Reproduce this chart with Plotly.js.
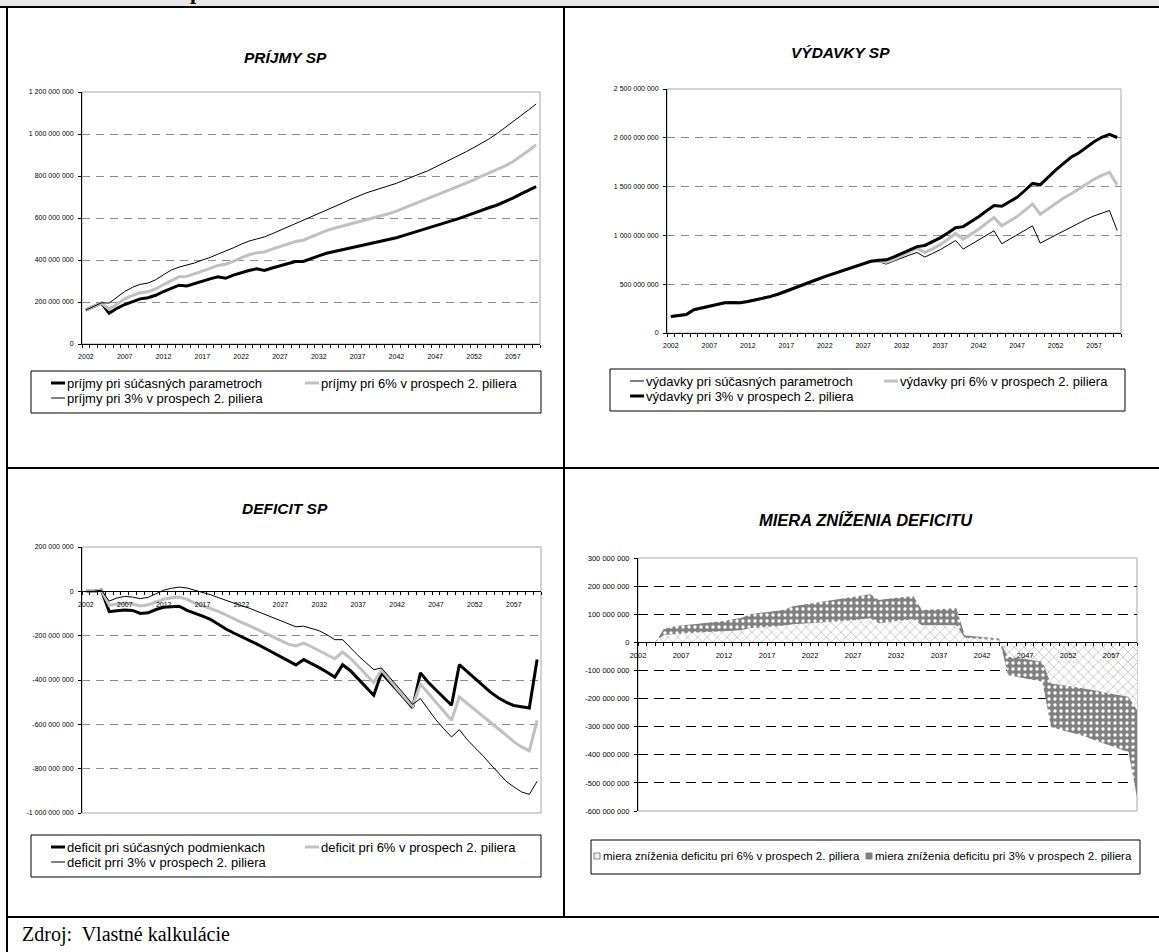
<!DOCTYPE html>
<html>
<head>
<meta charset="utf-8">
<script src="https://cdn.plot.ly/plotly-3.0.1.min.js"></script>
<style>
  html, body { margin: 0; padding: 0; background: #ffffff; }
  #chart { width: 1159px; height: 952px; }
</style>
</head>
<body>
<div id="chart"></div>
<script>
// ---- data (values in millions) ----
const years = [2002,2003,2004,2005,2006,2007,2008,2009,2010,2011,2012,2013,2014,2015,2016,2017,2018,2019,2020,
  2021,2022,2023,2024,2025,2026,2027,2028,2029,2030,2031,2032,2033,2034,2035,2036,2037,2038,2039,2040,
  2041,2042,2043,2044,2045,2046,2047,2048,2049,2050,2051,2052,2053,2054,2055,2056,2057,2058,2059,2060];
const labelYears = [2002,2007,2012,2017,2022,2027,2032,2037,2042,2047,2052,2057];

// PRÍJMY SP
const incomeCurrent = [162,178,195,146,170,188,203,215,220,232,250,266,280,276,288,298,310,320,313,328,
  340,350,358,350,362,373,384,393,393,408,420,432,440,448,456,464,474,482,488,497,
  506,517,528,540,551,562,574,585,597,610,624,638,650,662,678,695,714,732,749];
const incomeSix = [162,178,195,165,190,215,232,244,249,262,283,303,320,322,333,347,360,374,380,393,
  410,425,434,438,452,465,477,488,494,510,526,540,551,561,571,580,590,600,608,620,
  633,647,662,676,692,707,722,737,750,767,782,800,815,830,848,868,892,920,948];
const incomeThree = [162,178,196,195,222,250,270,284,290,306,330,352,366,376,386,400,412,428,442,458,
  475,490,500,510,525,541,556,572,587,603,620,637,654,670,687,703,718,730,741,753,
  765,780,796,810,824,842,860,878,898,916,936,956,978,1003,1030,1059,1086,1114,1143];

// VÝDAVKY SP
const expCurrent = [168,178,190,238,256,272,288,310,312,310,322,340,356,375,400,428,456,485,518,548,
  578,605,633,660,686,712,735,730,706,738,770,798,825,778,815,853,900,948,860,905,
  955,1000,1047,914,960,1006,1052,1098,921,962,1006,1046,1085,1125,1165,1200,1230,1255,1050];
const expSix = [168,178,190,238,256,272,288,310,312,310,322,340,356,375,400,428,456,485,518,548,
  578,605,633,660,686,712,735,738,725,755,790,830,870,825,862,905,960,1020,962,1012,
  1064,1125,1183,1098,1145,1193,1257,1320,1218,1275,1331,1380,1425,1475,1525,1575,1615,1645,1518];
const expThree = [168,178,190,238,256,272,288,310,312,310,322,340,356,375,400,428,456,485,518,548,
  578,605,633,660,686,712,735,745,750,780,815,850,885,897,935,975,1025,1078,1090,1140,
  1192,1250,1305,1298,1345,1390,1460,1532,1518,1595,1668,1735,1800,1845,1905,1960,2005,2035,2003];

// DEFICIT SP
const deficitCurrent = [0,0,5,-92,-88,-84,-86,-100,-97,-82,-72,-68,-67,-86,-98,-112,-126,-148,-170,-188,
  -204,-220,-238,-257,-276,-296,-315,-332,-308,-325,-344,-365,-387,-331,-358,-395,-432,-469,-368,-405,
  -445,-485,-525,-368,-410,-445,-480,-514,-331,-362,-395,-425,-455,-480,-500,-515,-522,-526,-308];
const deficitSix = [0,0,5,-63,-57,-53,-57,-66,-61,-47,-36,-29,-26,-36,-53,-65,-76,-90,-106,-124,
  -140,-155,-172,-188,-205,-222,-238,-246,-234,-250,-268,-286,-304,-274,-302,-338,-376,-412,-354,-398,
  -440,-480,-518,-419,-460,-500,-542,-582,-477,-505,-535,-565,-590,-618,-648,-678,-702,-720,-582];
const deficitThree = [0,0,5,-44,-30,-23,-26,-33,-27,-10,5,14,19,15,6,-4,-15,-28,-41,-52,
  -65,-76,-90,-104,-118,-132,-146,-160,-157,-166,-178,-196,-218,-218,-255,-290,-322,-353,-346,-385,
  -425,-467,-510,-484,-532,-580,-620,-657,-624,-668,-705,-740,-780,-820,-856,-882,-905,-916,-857];

// MIERA ZNÍŽENIA DEFICITU
const reductionSix = [0,0,0,26,29,31,33,35,36,37,39,41,44,50,52,54,57,60,64,66,
  68,70,71,72,76,79,83,86,68,72,76,79,82,61,61,61,61,61,16,13,
  11,9,7,-51,-55,-60,-64,-69,-146,-150,-155,-160,-165,-170,-176,-182,-188,-194,-241];
const reductionThree = [0,0,0,47,55,60,62,66,70,72,76,82,87,100,104,107,112,116,128,133,
  138,143,148,154,158,163,167,171,151,155,159,162,165,115,116,118,120,121,24,21,
  19,16,14,-117,-122,-128,-134,-140,-301,-310,-318,-327,-335,-347,-358,-368,-380,-390,-551];

// axis ticks (millions)
const incomeTicks = [0,200,400,600,800,1000,1200];
const expTicks = [0,500,1000,1500,2000,2500];
const deficitTicks = [-1000,-800,-600,-400,-200,0,200];
const reductionTicks = [-600,-500,-400,-300,-200,-100,0,100,200,300];

// legend labels
const incomeNames = ['príjmy pri súčasných parametroch','príjmy pri 6% v prospech 2. piliera','príjmy pri 3% v prospech 2. piliera'];
const expNames = ['výdavky pri súčasných parametroch','výdavky pri 6% v prospech 2. piliera','výdavky pri 3% v prospech 2. piliera'];
const deficitNames = ['deficit pri súčasných podmienkach','deficit pri 6% v prospech 2. piliera','deficit prri 3% v prospech 2. piliera'];
const reductionNames = ['miera zníženia deficitu pri 6% v prospech 2. piliera','miera zníženia deficitu pri 3% v prospech 2. piliera'];

// ---- helpers ----
const W = 1159, H = 952;
const fx = p => p / W;
const fy = p => 1 - p / H;
const M = 1e6;
const scaled = arr => arr.map(v => v * M);
const FONT = 'Liberation Sans, Arial, sans-serif';
const SERIF = 'Liberation Serif, Times New Roman, serif';

function spaced(v) {
  const s = Math.abs(Math.round(v)).toString().replace(/\B(?=(\d{3})+(?!\d))/g, ' ');
  return (v < 0 ? '-' : '') + s;
}

const THICK = {color: '#000000', width: 3};
const GRAY  = {color: '#c0c0c0', width: 3};
const THIN  = {color: '#000000', width: 1};

function yAxis(box, ticks, anchor, size, gridColor, dash) {
  const vals = ticks.map(t => t * M);
  return {
    domain: [fy(box[3]), fy(box[1])],
    range: [vals[0], vals[vals.length - 1]],
    anchor: anchor, fixedrange: true,
    tickmode: 'array', tickvals: vals, ticktext: vals.map(spaced),
    ticks: 'outside', ticklen: 3, tickwidth: 1, tickcolor: '#000',
    ticklabelstandoff: 3,
    showline: true, linecolor: '#000', linewidth: 1,
    showgrid: true, gridcolor: gridColor, gridwidth: 1, griddash: dash,
    zeroline: false,
    tickfont: {family: FONT, size: size, color: '#000'}
  };
}

function xAxis(box, anchor, size, onTicks, freePos) {
  const first = years[0], last = years[years.length - 1];
  const ax = {
    domain: [fx(box[0]), fx(box[2])],
    fixedrange: true,
    tickmode: 'array', tickvals: labelYears, ticktext: labelYears.map(String),
    showline: true, linecolor: '#000', linewidth: 1,
    showgrid: false, zeroline: false,
    tickfont: {family: FONT, size: size, color: '#000'}
  };
  if (onTicks) {
    ax.range = [first, last];
    ax.ticks = 'outside'; ax.ticklen = 3; ax.tickcolor = '#000';
    ax.ticklabelstandoff = 3;
    ax.minor = {tickmode: 'array', tickvals: years, ticks: 'outside', ticklen: 3, tickcolor: '#000', showgrid: false};
  } else {
    ax.range = [first - 0.5, last + 0.5];
    ax.ticks = 'outside'; ax.ticklen = 0;
    ax.ticklabelstandoff = 6;
    ax.minor = {tickmode: 'array', tickvals: years.concat([last + 1]).map(y => y - 0.5),
                ticks: 'outside', ticklen: 3, tickcolor: '#000', showgrid: false};
  }
  if (freePos !== undefined) { ax.anchor = 'free'; ax.position = freePos; }
  else ax.anchor = anchor;
  return ax;
}

// plot areas in pixels: [left, top, right, bottom]
const box1 = [82, 92, 540, 344];
const box2 = [667, 89, 1121, 333];
const box3 = [82, 547, 541, 813];
const box4 = [638, 558, 1137, 811];

function zeroPos(box, ticks) {
  const lo = ticks[0], hi = ticks[ticks.length - 1];
  const yPix = box[3] - (0 - lo) / (hi - lo) * (box[3] - box[1]);
  return fy(yPix);
}

function lineTrace(y, xa, ya, style) {
  return {type: 'scatter', mode: 'lines', x: years, y: scaled(y), xaxis: xa, yaxis: ya,
          line: Object.assign({shape: 'linear'}, style), hoverinfo: 'skip', showlegend: false};
}

const traces = [
  lineTrace(incomeCurrent, 'x', 'y', THICK),
  lineTrace(incomeSix, 'x', 'y', GRAY),
  lineTrace(incomeThree, 'x', 'y', THIN),

  lineTrace(expCurrent, 'x2', 'y2', THIN),
  lineTrace(expSix, 'x2', 'y2', GRAY),
  lineTrace(expThree, 'x2', 'y2', THICK),

  lineTrace(deficitCurrent, 'x3', 'y3', THICK),
  lineTrace(deficitSix, 'x3', 'y3', GRAY),
  lineTrace(deficitThree, 'x3', 'y3', THIN),

  {type: 'scatter', mode: 'lines', x: years, y: scaled(reductionThree), xaxis: 'x4', yaxis: 'y4',
   fill: 'tozeroy', fillcolor: '#808080', line: {width: 0, color: '#808080'},
   fillpattern: {shape: '.', bgcolor: '#808080', fgcolor: '#ffffff', size: 6, solidity: 0.25},
   hoverinfo: 'skip', showlegend: false},
  {type: 'scatter', mode: 'lines', x: years, y: scaled(reductionSix), xaxis: 'x4', yaxis: 'y4',
   fill: 'tozeroy', fillcolor: '#ffffff', line: {width: 0, color: '#ffffff'},
   fillpattern: {shape: 'x', bgcolor: '#ffffff', fgcolor: '#b0b0b0', size: 7, solidity: 0.18},
   hoverinfo: 'skip', showlegend: false}
];

// ---- frame, legends, titles ----
const shapes = [];
const annotations = [];

function hline(x0, x1, y, w, color) {
  shapes.push({type: 'line', xref: 'paper', yref: 'paper', x0: fx(x0), x1: fx(x1), y0: fy(y), y1: fy(y),
               line: {color: color || '#000', width: w}});
}
function vline(x, y0, y1, w, color) {
  shapes.push({type: 'line', xref: 'paper', yref: 'paper', x0: fx(x), x1: fx(x), y0: fy(y0), y1: fy(y1),
               line: {color: color || '#000', width: w}});
}
function rect(x0, y0, x1, y1, lineColor, fill, w) {
  shapes.push({type: 'rect', xref: 'paper', yref: 'paper', x0: fx(x0), x1: fx(x1), y0: fy(y1), y1: fy(y0),
               line: {color: lineColor, width: w === undefined ? 1 : w}, fillcolor: fill || 'rgba(0,0,0,0)'});
}
function text(str, x, y, opts) {
  opts = opts || {};
  annotations.push({xref: 'paper', yref: 'paper', x: fx(x), y: fy(y), text: str, showarrow: false,
    xanchor: opts.xanchor || 'left', yanchor: opts.yanchor || 'middle',
    font: {family: opts.family || FONT, size: opts.size || 12, color: '#000'}});
}

// header band of the surrounding table (its heading runs above the visible area)
rect(0, 0, W, 6, 'rgba(0,0,0,0)', '#e6e6e6', 0);
text('<b>p</b>', 188, -9, {family: SERIF, size: 22});
hline(0, W, 7, 2);
vline(7, 7, H, 2);
vline(564, 7, 917, 2);
hline(7, W, 468, 2);
hline(7, W, 917, 2);

// plot area borders (drawn beneath gridlines)
[['x', 'y'], ['x2', 'y2'], ['x3', 'y3'], ['x4', 'y4']].forEach(([xa, ya]) => {
  shapes.push({type: 'rect', xref: xa + ' domain', yref: ya + ' domain', x0: 0, x1: 1, y0: 0, y1: 1,
               line: {color: '#a6a6a6', width: 1}, layer: 'below'});
});

// titles
text('<b><i>PRÍJMY SP</i></b>', 285, 57, {xanchor: 'center', size: 15.5});
text('<b><i>VÝDAVKY SP</i></b>', 840, 52, {xanchor: 'center', size: 15.5});
text('<b><i>DEFICIT SP</i></b>', 285, 508, {xanchor: 'center', size: 15.5});
text('<b><i>MIERA ZNÍŽENIA DEFICITU</i></b>', 866, 520, {xanchor: 'center', size: 16.5});

// line legends: three entries in two columns
function lineLegend(b, names, styles, size) {
  rect(b[0], b[1], b[2], b[3], '#000', '#ffffff', 1);
  const r1 = b[1] + 12, r2 = b[1] + 27;
  const cols = [b[0] + 20, b[0] + 274];
  const slots = [[cols[0], r1], [cols[1], r1], [cols[0], r2]];
  names.forEach((n, i) => {
    const [sx, sy] = slots[i];
    shapes.push({type: 'line', xref: 'paper', yref: 'paper', x0: fx(sx), x1: fx(sx + 14), y0: fy(sy), y1: fy(sy),
                 line: styles[i]});
    text(n, sx + 14, sy, {size: size});
  });
}
lineLegend([31, 371, 541, 413], incomeNames, [THICK, GRAY, THIN], 13);
lineLegend([610, 369, 1125, 411], expNames, [THIN, GRAY, THICK], 13);
lineLegend([31, 835, 541, 877], deficitNames, [THICK, GRAY, THIN], 13);

// area legend
rect(591, 840, 1140, 874, '#000', '#ffffff', 1);
rect(594, 853, 600, 859, '#808080', '#f2f2f2', 1);
text(reductionNames[0], 601, 856, {size: 11.5});
rect(866, 853, 872, 859, '#808080', '#808080', 1);
text(reductionNames[1], 873, 856, {size: 11.5});

// source line
text('Zdroj:\u00a0 Vlastné kalkulácie', 20, 934, {family: SERIF, size: 20});

const layout = {
  width: W, height: H,
  margin: {l: 0, r: 0, t: 0, b: 0},
  paper_bgcolor: '#ffffff', plot_bgcolor: 'rgba(0,0,0,0)',
  showlegend: false,
  xaxis:  xAxis(box1, 'y', 7, false),
  yaxis:  yAxis(box1, incomeTicks, 'x', 7, '#8c8c8c', '8px,6px'),
  xaxis2: xAxis(box2, 'y2', 7, false),
  yaxis2: yAxis(box2, expTicks, 'x2', 7, '#8c8c8c', '8px,6px'),
  xaxis3: xAxis(box3, 'y3', 7, false, zeroPos(box3, deficitTicks)),
  yaxis3: yAxis(box3, deficitTicks, 'x3', 7, '#8c8c8c', '8px,6px'),
  xaxis4: xAxis(box4, 'y4', 7.5, true, zeroPos(box4, reductionTicks)),
  yaxis4: yAxis(box4, reductionTicks, 'x4', 7.5, '#000000', '10px,6px'),
  shapes: shapes,
  annotations: annotations
};

Plotly.newPlot('chart', traces, layout, {staticPlot: true, displayModeBar: false});
</script>
</body>
</html>
